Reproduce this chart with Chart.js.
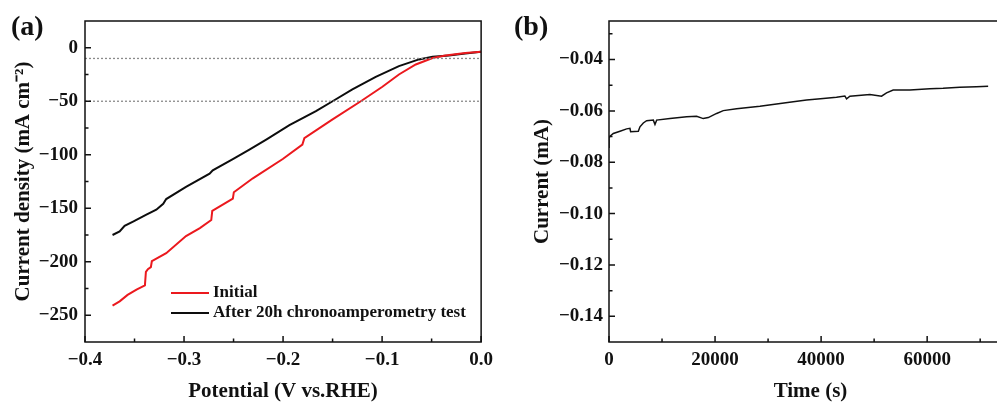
<!DOCTYPE html>
<html>
<head>
<meta charset="utf-8">
<script src="https://cdn.jsdelivr.net/npm/chart.js@4.4.0/dist/chart.umd.min.js"></script>
<style>
html, body { margin:0; padding:0; width:997px; height:405px; overflow:hidden; background:#fff; }
#wrapA { position:absolute; left:0; top:0; width:500px; height:405px; }
#wrapB { position:absolute; left:500px; top:0; width:520px; height:405px; }
.tag { position:absolute; top:10px; font:bold 28px 'Liberation Serif', serif; color:#111; }
</style>
</head>
<body>
<div id="wrapA"><canvas id="lsvChart" width="500" height="405"></canvas></div>
<div id="wrapB"><canvas id="itChart" width="520" height="405"></canvas></div>
<div class="tag" style="left:11px">(a)</div>
<div class="tag" style="left:514px">(b)</div>
<script>
// (a) LSV curves
var initialPotential = [-0.3722, -0.365, -0.357, -0.348, -0.3395, -0.3385, -0.3365, -0.3335, -0.3325, -0.318, -0.298, -0.284, -0.2725, -0.2715, -0.2507, -0.2497, -0.2305, -0.2003, -0.1805, -0.1785, -0.150, -0.1215, -0.0997, -0.083, -0.066, -0.049, -0.036, -0.016, 0.0];
var initialDensity   = [-241, -237, -231, -226, -222, -209.5, -207, -205, -199.5, -192, -176, -168.5, -161, -152.5, -141, -135, -122, -104, -90.5, -84.5, -67, -50, -36.5, -25, -15.6, -9.6, -7.2, -4.9, -3.7];
var agedPotential = [-0.3722, -0.365, -0.36, -0.351, -0.338, -0.328, -0.321, -0.318, -0.298, -0.2742, -0.271, -0.2507, -0.234, -0.217, -0.1936, -0.1668, -0.150, -0.130, -0.1064, -0.083, -0.0628, -0.049, -0.0326, -0.016, 0.0];
var agedDensity   = [-175, -171.7, -166.4, -162.3, -156, -151.4, -145.8, -141.4, -130, -117.7, -114.5, -104, -95.2, -85.8, -72.4, -59.3, -50, -39, -27.2, -17.2, -10.9, -8.4, -7.2, -5.3, -3.7];
var refDensity = [-10, -50];
var potentialTicks = [-0.4, -0.3, -0.2, -0.1, 0.0];
var densityTicks = [-250, -200, -150, -100, -50, 0];

// (b) chronoamperometry
var timeS = [0, 0, 190, 817, 2073, 3330, 3950, 4080, 5530, 5840, 6470, 7100, 8360, 8670, 8985, 11500, 14640, 16520, 17780, 18720, 20300, 21550, 24060, 28460, 31600, 34750, 37260, 40400, 42900, 44480, 44800, 45430, 49200, 51400, 52340, 53590, 56740, 60500, 63000, 66160, 69300, 71500];
var currentMA = [-0.0745, -0.0705, -0.0699, -0.0688, -0.0679, -0.0670, -0.0668, -0.0681, -0.0679, -0.0662, -0.0647, -0.0638, -0.0636, -0.0653, -0.0636, -0.0630, -0.0623, -0.0621, -0.0630, -0.0626, -0.0610, -0.0599, -0.0592, -0.0582, -0.0573, -0.0564, -0.0558, -0.0552, -0.0547, -0.0542, -0.0553, -0.0543, -0.0536, -0.0543, -0.0530, -0.0519, -0.0519, -0.0514, -0.0512, -0.0508, -0.0506, -0.0504];
var timeTicks = [0, 20000, 40000, 60000];
var currentTicks = [-0.14, -0.12, -0.10, -0.08, -0.06, -0.04];

var serif = 'Liberation Serif';
var ink = '#111';

function pairs(xs, ys) {
  return xs.map(function(x, i) { return {x: x, y: ys[i]}; });
}
function minus(s) { return String(s).replace('-', '\u2212'); }
function halfSteps(arr) {
  var out = [];
  for (var i = 0; i < arr.length - 1; i++) out.push((arr[i] + arr[i + 1]) / 2);
  var d = arr[1] - arr[0];
  out.push(arr[0] - d / 2, arr[arr.length - 1] + d / 2);
  return out;
}

// box frame + inward ticks
var framePlugin = {
  id: 'frame',
  afterDraw: function(chart) {
    var o = chart.options.plugins.frame;
    var ctx = chart.ctx, a = chart.chartArea;
    var xs = chart.scales.x, ys = chart.scales.y;
    ctx.save();
    ctx.strokeStyle = ink;
    ctx.lineWidth = 1.5;
    ctx.strokeRect(a.left, a.top, a.right - a.left, a.bottom - a.top);
    ctx.beginPath();
    o.xMajor.forEach(function(v) { var p = xs.getPixelForValue(v); ctx.moveTo(p, a.bottom); ctx.lineTo(p, a.bottom - 6); });
    halfSteps(o.xMajor).forEach(function(v) {
      if (v <= xs.min || v >= xs.max) return;
      var p = xs.getPixelForValue(v); ctx.moveTo(p, a.bottom); ctx.lineTo(p, a.bottom - 3.5);
    });
    o.yMajor.forEach(function(v) { var p = ys.getPixelForValue(v); ctx.moveTo(a.left, p); ctx.lineTo(a.left + 6, p); });
    halfSteps(o.yMajor).forEach(function(v) {
      if (v <= ys.min || v >= ys.max) return;
      var p = ys.getPixelForValue(v); ctx.moveTo(a.left, p); ctx.lineTo(a.left + 3.5, p);
    });
    ctx.stroke();

    if (o.legend) {
      var lx = o.legend.x, ly = o.legend.y;
      ctx.font = 'bold 17px ' + serif;
      ctx.textBaseline = 'middle';
      ctx.textAlign = 'left';
      chart.data.datasets.forEach(function(ds) {
        if (!ds.inLegend) return;
        ctx.strokeStyle = ds.borderColor;
        ctx.lineWidth = 2.2;
        ctx.beginPath(); ctx.moveTo(lx, ly); ctx.lineTo(lx + 38, ly); ctx.stroke();
        ctx.fillStyle = ink;
        ctx.fillText(ds.label, lx + 42, ly);
        ly += 20;
      });
    }
    ctx.restore();
  }
};

function tickFont() { return {family: serif, size: 19, weight: 'bold'}; }
function titleFont() { return {family: serif, size: 21, weight: 'bold'}; }

// ---------- (a)
var lsvSets = refDensity.map(function(level) {
  return {
    label: 'ref' + level,
    data: [{x: potentialTicks[0], y: level}, {x: potentialTicks[potentialTicks.length - 1], y: level}],
    borderColor: '#8a8a8a', borderWidth: 1.3, borderDash: [2, 2], pointRadius: 0, fill: false
  };
});
lsvSets.push({
  label: 'Initial', inLegend: true,
  data: pairs(initialPotential, initialDensity),
  borderColor: 'rgb(235,25,30)', borderWidth: 2, pointRadius: 0, fill: false, tension: 0
});
lsvSets.push({
  label: 'After 20h chronoamperometry test', inLegend: true,
  data: pairs(agedPotential, agedDensity),
  borderColor: '#0d0d0d', borderWidth: 2, pointRadius: 0, fill: false, tension: 0
});

new Chart(document.getElementById('lsvChart').getContext('2d'), {
  type: 'line',
  data: {datasets: lsvSets},
  plugins: [framePlugin],
  options: {
    responsive: false, animation: false, devicePixelRatio: 1,
    layout: {padding: {left: 0, top: 21, right: 18, bottom: 0}},
    plugins: {
      legend: {display: false}, tooltip: {enabled: false},
      frame: {xMajor: potentialTicks, yMajor: densityTicks, legend: {x: 171, y: 293}}
    },
    scales: {
      x: {
        type: 'linear', min: -0.4, max: 0,
        afterBuildTicks: function(s) { s.ticks = potentialTicks.map(function(v) { return {value: v}; }); },
        afterFit: function(s) { s.height = 63; },
        grid: {display: false, drawTicks: false}, border: {display: false},
        ticks: {padding: 7, color: ink, font: tickFont(), maxRotation: 0, autoSkip: false,
          callback: function(v) { return minus(v.toFixed(1)); }},
        title: {display: true, text: 'Potential (V vs.RHE)', color: ink, font: titleFont(), padding: {top: 0, bottom: 1}}
      },
      y: {
        type: 'linear', min: -275, max: 25,
        afterBuildTicks: function(s) { s.ticks = densityTicks.map(function(v) { return {value: v}; }); },
        afterFit: function(s) { s.width = 85; },
        grid: {display: false, drawTicks: false}, border: {display: false},
        ticks: {padding: 7, color: ink, font: tickFont(), autoSkip: false,
          callback: function(v) { return minus(v.toFixed(0)); }},
        title: {display: true, text: 'Current density (mA cm\u207B\u00B2)', color: ink, font: titleFont(), padding: {top: 11, bottom: 0}}
      }
    }
  }
});

// ---------- (b)
new Chart(document.getElementById('itChart').getContext('2d'), {
  type: 'line',
  data: {datasets: [{
    label: 'Current',
    data: pairs(timeS, currentMA),
    borderColor: '#111', borderWidth: 1.5, pointRadius: 0, fill: false, tension: 0
  }]},
  plugins: [framePlugin],
  options: {
    responsive: false, animation: false, devicePixelRatio: 1,
    layout: {padding: {left: 0, top: 21, right: 8, bottom: 0}},
    plugins: {
      legend: {display: false}, tooltip: {enabled: false},
      frame: {xMajor: timeTicks, yMajor: currentTicks}
    },
    scales: {
      x: {
        type: 'linear', min: 0, max: 76000,
        afterBuildTicks: function(s) { s.ticks = timeTicks.map(function(v) { return {value: v}; }); },
        afterFit: function(s) { s.height = 63; },
        grid: {display: false, drawTicks: false}, border: {display: false},
        ticks: {padding: 7, color: ink, font: tickFont(), maxRotation: 0, autoSkip: false,
          callback: function(v) { return v.toFixed(0); }},
        title: {display: true, text: 'Time (s)', color: ink, font: titleFont(), padding: {top: 0, bottom: 1}}
      },
      y: {
        type: 'linear', min: -0.15, max: -0.025,
        afterBuildTicks: function(s) { s.ticks = currentTicks.map(function(v) { return {value: v}; }); },
        afterFit: function(s) { s.width = 109; },
        grid: {display: false, drawTicks: false}, border: {display: false},
        ticks: {padding: 6, color: ink, font: tickFont(), autoSkip: false,
          callback: function(v) { return minus(v.toFixed(2)); }},
        title: {display: true, text: 'Current (mA)', color: ink, font: titleFont(), padding: {top: 30, bottom: 0}}
      }
    }
  }
});
</script>
</body>
</html>
